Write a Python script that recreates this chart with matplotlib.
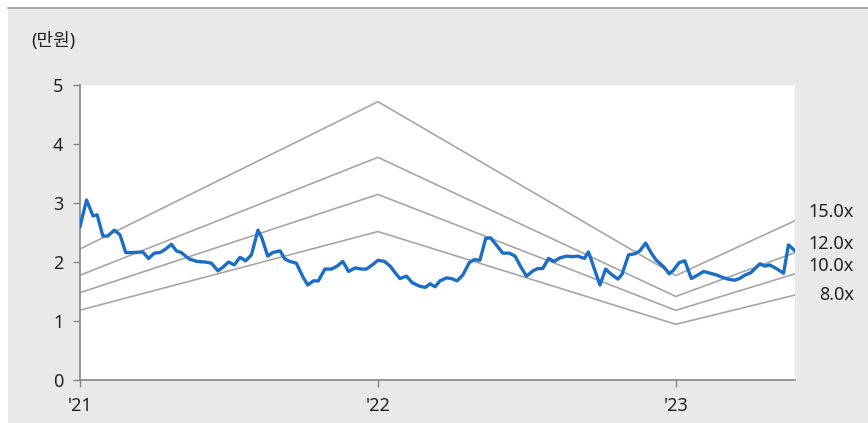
import numpy as np
import pandas as pd
import matplotlib
matplotlib.use("Agg")
import matplotlib.pyplot as plt
from matplotlib.patches import Rectangle
from matplotlib.lines import Line2D

plt.rcParams['font.family'] = ['Noto Sans', 'Noto Sans CJK KR', 'DejaVu Sans']

# share price (만원)
price_dates = [
    "2021-01-01", "2021-01-09", "2021-01-17", "2021-01-22", "2021-01-29", "2021-02-04",
    "2021-02-12", "2021-02-19", "2021-02-26", "2021-03-07", "2021-03-19", "2021-03-26",
    "2021-04-02", "2021-04-09", "2021-04-15", "2021-04-23", "2021-04-29", "2021-05-05",
    "2021-05-15", "2021-05-24", "2021-06-03", "2021-06-11", "2021-06-19", "2021-06-25",
    "2021-07-02", "2021-07-09", "2021-07-16", "2021-07-23", "2021-07-30", "2021-08-07",
    "2021-08-12", "2021-08-19", "2021-08-25", "2021-09-03", "2021-09-09", "2021-09-15",
    "2021-09-23", "2021-10-01", "2021-10-07", "2021-10-14", "2021-10-20", "2021-10-28",
    "2021-11-05", "2021-11-12", "2021-11-19", "2021-11-26", "2021-12-04", "2021-12-12",
    "2021-12-18", "2021-12-26", "2022-01-01", "2022-01-09", "2022-01-16", "2022-01-22",
    "2022-01-28", "2022-02-05", "2022-02-12", "2022-02-21", "2022-02-28", "2022-03-06",
    "2022-03-12", "2022-03-18", "2022-03-26", "2022-04-01", "2022-04-08", "2022-04-15",
    "2022-04-23", "2022-04-29", "2022-05-06", "2022-05-13", "2022-05-19", "2022-05-26",
    "2022-06-03", "2022-06-11", "2022-06-18", "2022-06-25", "2022-07-02", "2022-07-10",
    "2022-07-16", "2022-07-22", "2022-07-29", "2022-08-05", "2022-08-12", "2022-08-20",
    "2022-08-28", "2022-09-03", "2022-09-11", "2022-09-16", "2022-09-23", "2022-09-30",
    "2022-10-07", "2022-10-14", "2022-10-22", "2022-10-27", "2022-11-04", "2022-11-12",
    "2022-11-18", "2022-11-25", "2022-12-02", "2022-12-08", "2022-12-17", "2022-12-24",
    "2022-12-29", "2023-01-05", "2023-01-12", "2023-01-20", "2023-01-28", "2023-02-04",
    "2023-02-12", "2023-02-20", "2023-02-27", "2023-03-06", "2023-03-14", "2023-03-20",
    "2023-03-27", "2023-04-03", "2023-04-14", "2023-04-20", "2023-04-26", "2023-05-04",
    "2023-05-13", "2023-05-19", "2023-05-27",
]
price = [
    2.60, 3.05, 2.78, 2.80, 2.44, 2.44,
    2.54, 2.46, 2.16, 2.16, 2.17, 2.06,
    2.15, 2.16, 2.21, 2.30, 2.19, 2.16,
    2.05, 2.01, 2.00, 1.98, 1.85, 1.91,
    2.00, 1.95, 2.08, 2.02, 2.12, 2.54,
    2.40, 2.10, 2.16, 2.19, 2.05, 2.01,
    1.98, 1.75, 1.61, 1.68, 1.68, 1.88,
    1.88, 1.93, 2.01, 1.84, 1.90, 1.88,
    1.88, 1.96, 2.03, 2.01, 1.93, 1.82,
    1.72, 1.76, 1.65, 1.59, 1.57, 1.63,
    1.58, 1.68, 1.73, 1.72, 1.68, 1.78,
    1.99, 2.04, 2.03, 2.40, 2.41, 2.29,
    2.15, 2.15, 2.10, 1.92, 1.76, 1.85,
    1.89, 1.89, 2.06, 2.01, 2.07, 2.10,
    2.09, 2.10, 2.06, 2.17, 1.89, 1.61,
    1.88, 1.79, 1.71, 1.79, 2.12, 2.14,
    2.19, 2.32, 2.15, 2.03, 1.92, 1.80,
    1.86, 1.99, 2.02, 1.72, 1.78, 1.84,
    1.81, 1.78, 1.74, 1.71, 1.69, 1.72,
    1.78, 1.82, 1.97, 1.93, 1.95, 1.89,
    1.81, 2.29, 2.19,
]

# forward EPS (만원) used for the PER band
eps_dates = ["2021-01-01", "2022-01-01", "2023-01-01", "2024-01-01"]
eps = [0.148, 0.3145, 0.118, 0.273]
multiples = [15.0, 12.0, 10.0, 8.0]
band_label_y = [2.85, 2.31, 1.93, 1.44]

year_ticks = ["2021-01-01", "2022-01-01", "2023-01-01"]
year_labels = ["'21", "'22", "'23"]

price_dates = pd.to_datetime(price_dates)
eps_dates = pd.to_datetime(eps_dates)

fig = plt.figure(figsize=(8.68, 4.23), dpi=100, facecolor="white")
fig.patches.append(Rectangle((8 / 868, 0.0), 1.0, 415 / 423, transform=fig.transFigure,
                             facecolor="#e9e9e9", edgecolor="none", zorder=-10))
fig.lines.append(Line2D([8 / 868, 1.0], [415 / 423, 415 / 423], transform=fig.transFigure,
                        color="#9a9a9a", linewidth=1.2, zorder=-5))

ax = fig.add_axes([80 / 868, 43 / 423, 715 / 868, 295 / 423])
ax.set_facecolor("white")

for m in multiples:
    ax.plot(eps_dates, np.array(eps) * m, color="#a6a6a6", linewidth=1.2, zorder=2)

ax.plot(price_dates, price, color="#1a6ec5", linewidth=2.4, zorder=3)

ax.set_xlim(pd.Timestamp("2021-01-01"), pd.Timestamp("2023-05-27"))
ax.set_ylim(0, 5)
ax.set_yticks([0, 1, 2, 3, 4, 5])
ax.set_xticks(pd.to_datetime(year_ticks))
ax.set_xticklabels(year_labels)

for s in ["top", "right"]:
    ax.spines[s].set_visible(False)
for s in ["left", "bottom"]:
    ax.spines[s].set_color("#868686")
    ax.spines[s].set_linewidth(1.2)
ax.tick_params(axis="both", colors="#868686", labelcolor="#222222", labelsize=13,
               length=5, width=1.0, pad=7)

for m, ly in zip(multiples, band_label_y):
    ax.text(1.0825, ly, f"{m:.1f}x", transform=ax.get_yaxis_transform(), ha="right",
            va="center", fontsize=13, color="#222222", clip_on=False)

fig.text(31 / 868, 1 - 41 / 423, "(만원)", ha="left", va="center", fontsize=13, color="#222222")

fig.savefig("out.png", dpi=100, facecolor="white")
